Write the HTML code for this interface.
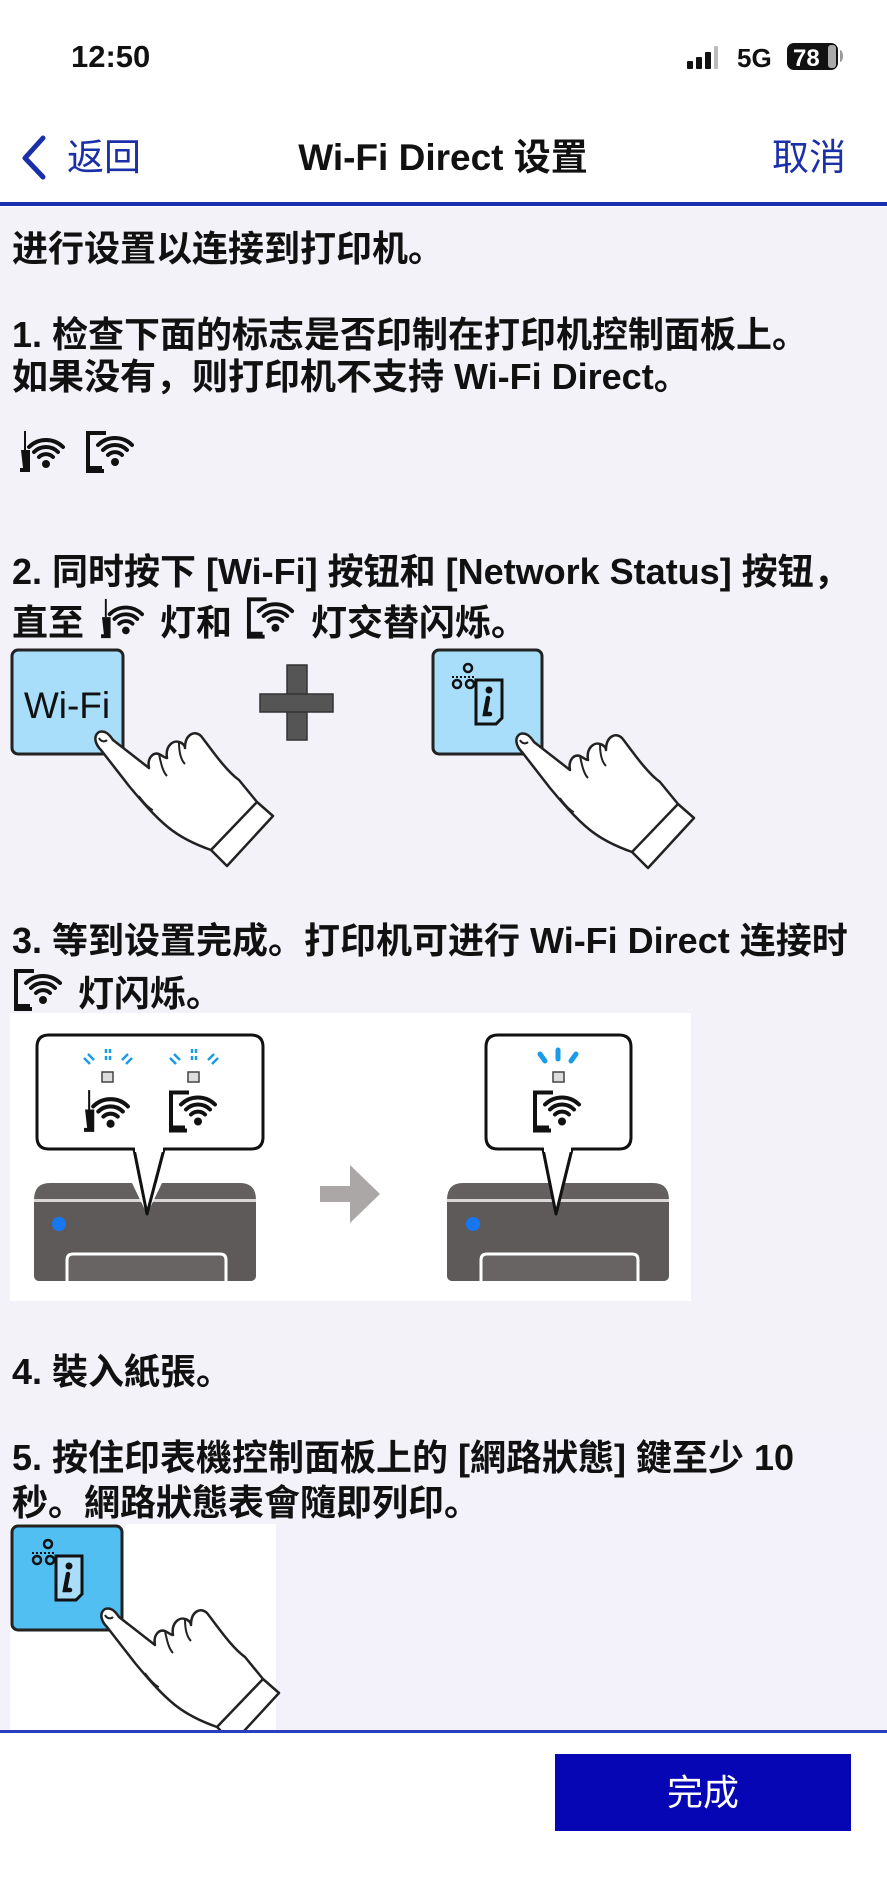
<!DOCTYPE html>
<html><head><meta charset="utf-8"><style>
*{margin:0;padding:0;box-sizing:border-box}
html,body{width:887px;height:1890px;overflow:hidden}
body{position:relative;background:#fff;font-family:"Liberation Sans","Noto Sans CJK SC",sans-serif;color:#111}
#content{position:absolute;left:0;top:207px;width:887px;height:1524px;background:linear-gradient(180deg,#f2f2f8 0%,#f3f2f9 60%,#f3f1f9 100%)}
.t{position:absolute;left:12px;font-size:36px;line-height:36px;font-weight:bold;white-space:nowrap;color:#111}
svg{position:absolute;left:0;top:0}
</style></head><body>
<div id="content"></div>

<svg width="887" height="1890" viewBox="0 0 887 1890">
<defs>
<symbol id="wr" viewBox="0 0 50 44">
<line x1="7" y1="1" x2="7" y2="20" stroke="#111" stroke-width="2"/>
<path d="M3,20 H12 V42 H2 V38 H5 Z" fill="#111"/>
<circle cx="28" cy="34" r="4" fill="#111"/>
<g fill="none" stroke="#111" stroke-width="4" stroke-linecap="round">
<path d="M21,27 A10,10 0 0 1 35,27"/>
<path d="M16,22 A17,17 0 0 1 40,22"/>
<path d="M11,17 A24,24 0 0 1 45,17"/>
</g>
</symbol>
<symbol id="wp" viewBox="0 0 55 44">
<path d="M22,3 H4 V41 H20" fill="none" stroke="#111" stroke-width="4"/>
<rect x="4" y="36" width="14" height="6" fill="#111"/>
<circle cx="31" cy="32" r="4" fill="#111"/>
<g fill="none" stroke="#111" stroke-width="4" stroke-linecap="round">
<path d="M24,25 A10,10 0 0 1 38,25"/>
<path d="M19,20 A17,17 0 0 1 43,20"/>
<path d="M14,15 A24,24 0 0 1 48,15"/>
</g>
</symbol>
<symbol id="hand" viewBox="-10 -10 200 160" overflow="visible">
<path d="M0,-4 C6,-6 10,-2 14,4 L50,32 C48,22 54,16 60,18 C64,20 66,22 68,22 C66,10 74,4 80,6 C84,7 86,10 86,12 C86,-2 96,-6 102,0 C110,10 126,34 140,44 L158,66 L174,80 L128,130 L112,114 C95,108 80,100 70,92 C55,80 40,62 30,50 L2,14 C-4,8 -6,0 0,-4 Z" fill="#fff" stroke="#222" stroke-width="2.5" stroke-linejoin="round"/>
<path d="M158,66 L112,114" stroke="#222" stroke-width="2.5"/>
<path d="M60,18 C62,28 64,36 68,40 M80,6 C80,16 82,24 86,28 M0,2 C2,6 6,6 8,4" fill="none" stroke="#222" stroke-width="2"/>
<path d="M40,60 C46,68 50,72 54,74" fill="none" stroke="#222" stroke-width="1.5"/>
</symbol>
<symbol id="infoicon" viewBox="0 0 60 70">
<circle cx="20" cy="8" r="4" fill="none" stroke="#111" stroke-width="2.5"/>
<circle cx="9" cy="24" r="4" fill="none" stroke="#111" stroke-width="2.5"/>
<circle cx="22" cy="24" r="4" fill="none" stroke="#111" stroke-width="2.5"/>
<path d="M4,17 H28" stroke="#111" stroke-width="2" stroke-dasharray="2 2"/>
<path d="M28,20 H54 V58 L48,64 H28 Z" fill="#a9defa" stroke="#111" stroke-width="3"/>
<circle cx="41" cy="30" r="3.5" fill="#111"/>
<path d="M40,38 L37,54 L42,54" fill="none" stroke="#111" stroke-width="4.5" stroke-linecap="round"/>
</symbol>
</defs>

<text x="71" y="67" font-family="Liberation Sans" font-size="31" font-weight="bold" fill="#111">12:50</text>
<rect x="687" y="61" width="6" height="8" rx="1" fill="#111"/>
<rect x="696" y="57" width="6" height="12" rx="1" fill="#111"/>
<rect x="705" y="52" width="6" height="17" rx="1" fill="#111"/>
<rect x="714" y="46" width="4" height="23" rx="1" fill="#bbb"/>
<text x="737" y="67" font-family="Liberation Sans" font-size="26" font-weight="bold" fill="#111">5G</text>
<rect x="787" y="43" width="51" height="27" rx="7" fill="#111"/>
<rect x="828" y="45" width="8" height="23" rx="3" fill="#aaa"/>
<path d="M840,50 a3,6 0 0 1 0,12" fill="#999"/>
<text x="793" y="66" font-family="Liberation Sans" font-size="24" font-weight="bold" fill="#fff">78</text>

<path d="M43,138 L25,158 L43,177" fill="none" stroke="#1a2fa8" stroke-width="5" stroke-linecap="round" stroke-linejoin="round"/>
<text x="67" y="170" font-family="Liberation Sans,Noto Sans CJK SC,sans-serif" font-size="37" fill="#1a2fa8">返回</text>
<text x="443" y="170" text-anchor="middle" font-family="Liberation Sans,Noto Sans CJK SC,sans-serif" font-size="37" font-weight="bold" fill="#111">Wi-Fi Direct 设置</text>
<text x="772" y="170" font-family="Liberation Sans,Noto Sans CJK SC,sans-serif" font-size="37" fill="#1a2fa8">取消</text>
<rect x="0" y="202" width="887" height="4" fill="#1a30b0"/>

<use href="#wr" x="18" y="430" width="50" height="44"/>
<use href="#wp" x="84" y="430" width="55" height="44"/>

<use href="#wr" x="98" y="598" width="50" height="42"/>
<use href="#wp" x="245" y="596" width="54" height="44"/>
<use href="#wp" x="12" y="968" width="55" height="44"/>

<rect x="12" y="650" width="111" height="104" rx="6" fill="#a9defa" stroke="#222" stroke-width="3"/>
<text x="67" y="718" text-anchor="middle" font-family="Liberation Sans" font-size="37" fill="#111">Wi-Fi</text>
<use href="#hand" x="89" y="726" width="200" height="160"/>
<rect x="287" y="665" width="20" height="75" fill="#555" stroke="#333" stroke-width="1.5"/>
<rect x="260" y="694" width="73" height="18" fill="#555" stroke="#333" stroke-width="1.5"/>
<rect x="288" y="695" width="18" height="16" fill="#555"/>
<rect x="433" y="650" width="109" height="104" rx="6" fill="#a9defa" stroke="#222" stroke-width="3"/>
<use href="#infoicon" x="448" y="660" width="60" height="70"/>
<use href="#hand" x="510" y="728" width="200" height="160"/>

<rect x="10" y="1013" width="681" height="288" fill="#fff"/>
<path d="M49,1035 H251 Q263,1035 263,1047 V1137 Q263,1149 251,1149 H164 L147,1214 L134,1149 H49 Q37,1149 37,1137 V1047 Q37,1035 49,1035 Z" fill="#fff" stroke="#111" stroke-width="3" stroke-linejoin="round"/>
<g stroke="#1a9be8" stroke-width="2.5">
<path d="M106,1049 V1053 M106,1056 V1060 M110,1049 V1053 M110,1056 V1060"/>
<path d="M88,1054 L94,1060 M84,1058 L90,1064 M128,1054 L122,1060 M132,1058 L126,1064"/>
<path d="M192,1049 V1053 M192,1056 V1060 M196,1049 V1053 M196,1056 V1060"/>
<path d="M174,1054 L180,1060 M170,1058 L176,1064 M214,1054 L208,1060 M218,1058 L212,1064"/>
</g>
<rect x="102" y="1072" width="11" height="10" fill="#ddd" stroke="#444" stroke-width="1.5"/>
<rect x="188" y="1072" width="11" height="10" fill="#ddd" stroke="#444" stroke-width="1.5"/>
<use href="#wr" x="82" y="1089" width="51" height="45"/>
<use href="#wp" x="167" y="1089" width="55" height="45"/>
<path d="M34,1200 Q34,1183 50,1183 H240 Q256,1183 256,1200 V1275 Q256,1281 250,1281 H40 Q34,1281 34,1275 Z" fill="#646060"/>
<rect x="34" y="1199" width="222" height="3" fill="#d8d6d6"/>
<path d="M34,1202 H256 V1275 Q256,1281 250,1281 H40 Q34,1281 34,1275 Z" fill="#5e5a5a"/>
<path d="M67,1281 V1260 Q67,1254 73,1254 H220 Q226,1254 226,1260 V1281" fill="#686464" stroke="#fff" stroke-width="3"/>
<circle cx="59" cy="1224" r="7" fill="#1677f0"/>
<path d="M132,1183 L147,1214 L162,1183" fill="#fff" stroke="none"/>
<path d="M134,1149 L147,1214 L164,1149" fill="#fff" stroke="#111" stroke-width="3" stroke-linejoin="round"/>
<rect x="135" y="1144" width="28" height="8" fill="#fff"/>
<path d="M320,1186 H350 V1165 L380,1194 L350,1223 V1202 H320 Z" fill="#aba7a7"/>
<path d="M498,1035 H619 Q631,1035 631,1047 V1137 Q631,1149 619,1149 H572 L556,1214 L543,1149 H498 Q486,1149 486,1137 V1047 Q486,1035 498,1035 Z" fill="#fff" stroke="#111" stroke-width="3" stroke-linejoin="round"/>
<g stroke="#1a9be8" stroke-width="5" stroke-linecap="round">
<path d="M558,1050 V1059"/>
<path d="M540,1054 L545,1061 M576,1054 L571,1061"/>
</g>
<rect x="553" y="1072" width="11" height="10" fill="#ddd" stroke="#444" stroke-width="1.5"/>
<use href="#wp" x="531" y="1089" width="55" height="45"/>
<path d="M447,1200 Q447,1183 463,1183 H653 Q669,1183 669,1200 V1275 Q669,1281 663,1281 H453 Q447,1281 447,1275 Z" fill="#646060"/>
<rect x="447" y="1199" width="222" height="3" fill="#d8d6d6"/>
<path d="M447,1202 H669 V1275 Q669,1281 663,1281 H453 Q447,1281 447,1275 Z" fill="#5e5a5a"/>
<path d="M481,1281 V1260 Q481,1254 487,1254 H632 Q638,1254 638,1260 V1281" fill="#686464" stroke="#fff" stroke-width="3"/>
<circle cx="473" cy="1224" r="7" fill="#1677f0"/>
<path d="M543,1149 L556,1214 L572,1149" fill="#fff" stroke="#111" stroke-width="3" stroke-linejoin="round"/>
<rect x="544" y="1144" width="27" height="8" fill="#fff"/>

<rect x="10" y="1524" width="266" height="207" fill="#fff"/>
<rect x="12" y="1526" width="110" height="104" rx="6" fill="#52bff2" stroke="#222" stroke-width="3"/>
<use href="#infoicon" x="28" y="1536" width="60" height="70"/>
<svg x="0" y="0" width="887" height="1731"><use href="#hand" x="95" y="1603" width="200" height="160"/></svg>

<rect x="0" y="1730" width="887" height="3" fill="#2a3ec0"/>
<rect x="555" y="1754" width="296" height="77" fill="#0606b4"/>
<text x="703" y="1805" text-anchor="middle" font-family="Liberation Sans,Noto Sans CJK SC,sans-serif" font-size="36" fill="#fff">完成</text>
</svg>

<div class="t" style="top:231px">进行设置以连接到打印机。</div>
<div class="t" style="top:317px">1. 检查下面的标志是否印制在打印机控制面板上。</div>
<div class="t" style="top:359px">如果没有，则打印机不支持 Wi-Fi Direct。</div>
<div class="t" style="top:554px">2. 同时按下 [Wi-Fi] 按钮和 [Network Status] 按钮，</div>
<div class="t" style="top:605px">直至</div>
<div class="t" style="top:605px;left:160px">灯和</div>
<div class="t" style="top:605px;left:311px">灯交替闪烁。</div>
<div class="t" style="top:923px">3. 等到设置完成。打印机可进行 Wi-Fi Direct 连接时</div>
<div class="t" style="top:976px;left:78px">灯闪烁。</div>
<div class="t" style="top:1354px">4. 裝入紙張。</div>
<div class="t" style="top:1440px">5. 按住印表機控制面板上的 [網路狀態] 鍵至少 10</div>
<div class="t" style="top:1485px">秒。網路狀態表會隨即列印。</div>
</body></html>
